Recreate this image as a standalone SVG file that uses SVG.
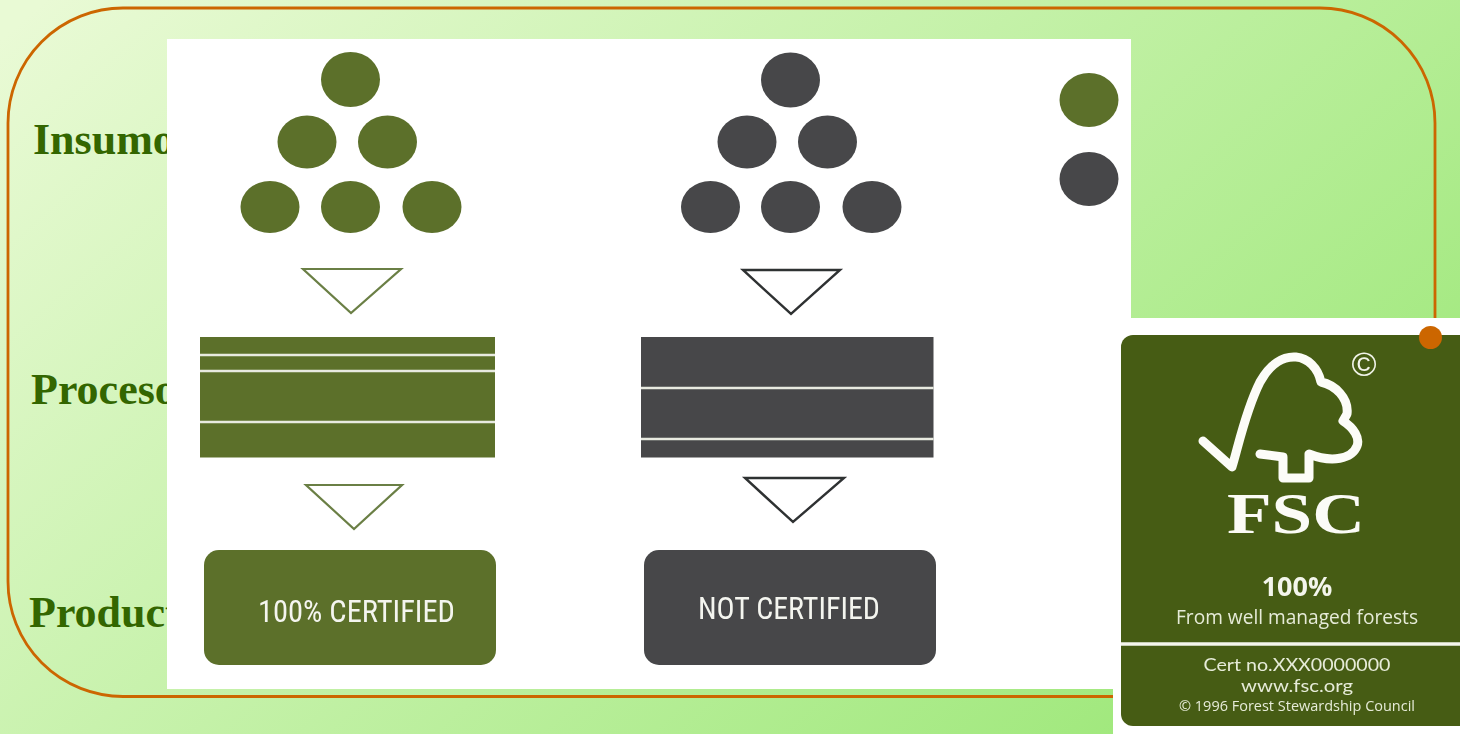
<svg xmlns="http://www.w3.org/2000/svg" width="1460" height="734" viewBox="0 0 1460 734">
<defs>
<linearGradient id="bg" gradientUnits="userSpaceOnUse" x1="250" y1="-180" x2="1210" y2="914">
<stop offset="0" stop-color="#e9fad5"/><stop offset="1" stop-color="#96e670"/>
</linearGradient>
<filter id="soft" x="-5%" y="-5%" width="110%" height="110%"><feGaussianBlur stdDeviation="0.6"/></filter>
<filter id="softer" x="-5%" y="-5%" width="110%" height="110%"><feGaussianBlur stdDeviation="0.4"/></filter>
</defs>
<style>
.lbl{font:bold 44px "Liberation Serif",serif;fill:#336600}
.g{fill:#5c702c}.d{fill:#464749}
.tg{fill:#fff;stroke:#6b7f45;stroke-width:2.2}
.td{fill:#fff;stroke:#2f3032;stroke-width:2.4}
.sep{stroke:#e8eae0;stroke-width:2.6}
.btn{font:32px "Roboto Condensed",Roboto,"Liberation Sans",sans-serif;fill:#f4f5ef}
.fs{font-family:"Open Sans","Noto Sans",sans-serif;fill:#e6ebd8;text-anchor:middle}
.fl{font-family:Lato,"Open Sans",sans-serif;fill:#e6ebd8;text-anchor:middle}
</style>
<rect id="background" width="1460" height="734" fill="url(#bg)"/>
<rect id="frame" x="8" y="8" width="1427" height="688.500" rx="115" ry="115" fill="none" stroke="#cc6600" stroke-width="2.800"/>
<g id="labels">
<text class="lbl" x="33" y="154">Insumo</text>
<text class="lbl" x="31" y="404">Proceso</text>
<text class="lbl" x="29" y="627">Product</text>
</g>
<g id="chart">
<rect x="167" y="39" width="964" height="650" fill="#fff"/>
<g filter="url(#softer)">
<g id="certified-inputs" class="g">
<ellipse cx="350.500" cy="79.500" rx="29.500" ry="27.500"/>
<ellipse cx="307" cy="142" rx="29.500" ry="26.500"/>
<ellipse cx="387.500" cy="142" rx="29.500" ry="26.500"/>
<ellipse cx="270" cy="207" rx="29.500" ry="26"/>
<ellipse cx="350.500" cy="207" rx="29.500" ry="26"/>
<ellipse cx="432" cy="207" rx="29.500" ry="26"/>
</g>
<g id="uncertified-inputs" class="d">
<ellipse cx="790.500" cy="80" rx="29.500" ry="27.500"/>
<ellipse cx="747" cy="142" rx="29.500" ry="26.500"/>
<ellipse cx="827.500" cy="142" rx="29.500" ry="26.500"/>
<ellipse cx="710.500" cy="207" rx="29.500" ry="26"/>
<ellipse cx="790.500" cy="207" rx="29.500" ry="26"/>
<ellipse cx="872" cy="207" rx="29.500" ry="26"/>
</g>
<g id="legend">
<ellipse class="g" cx="1089" cy="100" rx="29.500" ry="27"/>
<ellipse class="d" cx="1089" cy="179" rx="29.500" ry="27"/>
</g>
<g id="arrows">
<polygon class="tg" points="303,269 401,269 351,313"/>
<polygon class="tg" points="306,485 402,485 354,529"/>
<polygon class="td" points="743,270 840,270 791,314"/>
<polygon class="td" points="745,478 844,478 793,522"/>
</g>
<g id="certified-process">
<rect class="g" x="200" y="337" width="295" height="120.500"/>
<line class="sep" x1="200" x2="495" y1="355" y2="355"/>
<line class="sep" x1="200" x2="495" y1="371" y2="371"/>
<line class="sep" x1="200" x2="495" y1="422" y2="422"/>
</g>
<g id="uncertified-process">
<rect class="d" x="641" y="337" width="292.500" height="120.500"/>
<line class="sep" x1="641" x2="933.500" y1="388" y2="388"/>
<line class="sep" x1="641" x2="933.500" y1="439" y2="439"/>
</g>
<g id="certified-product">
<rect class="g" x="204" y="550" width="292" height="115" rx="15"/>
<text class="btn" x="258" y="622" textLength="197" lengthAdjust="spacingAndGlyphs">100% CERTIFIED</text>
</g>
<g id="uncertified-product">
<rect class="d" x="644" y="550" width="292" height="115" rx="15"/>
<text class="btn" x="698" y="619" textLength="182" lengthAdjust="spacingAndGlyphs">NOT CERTIFIED</text>
</g>
</g>
</g>
<g id="fsc-logo">
<rect x="1113" y="318" width="347" height="416" fill="#fff"/>
<path d="M1121 347a12 12 0 0 1 12-12H1460V726H1133a12 12 0 0 1-12-12Z" fill="#465c14"/>
<g filter="url(#soft)">
<path d="M1203 441L1232 467C1238 448 1245 412 1260 382C1270 364 1283 356 1296 357C1308 358 1318 368 1321 382C1335 385 1349 398 1347 414L1343 421C1354 428 1360 438 1357 446C1352 459 1332 463 1309 454V478H1283V457L1260 454" fill="none" stroke="#fcfcf8" stroke-width="9" stroke-linejoin="round" stroke-linecap="round"/>
<line x1="1121" x2="1460" y1="644" y2="644" stroke="#f4f6ec" stroke-width="3.500"/>
<text x="1364" y="376" font-family="Liberation Sans,sans-serif" font-size="34" fill="#f2f4ea" text-anchor="middle">©</text>
<text x="1296" y="533" font-family="Liberation Serif,serif" font-weight="bold" font-size="56" fill="#fbfbf6" text-anchor="middle" textLength="138" lengthAdjust="spacingAndGlyphs">FSC</text>
<text class="fs" x="1297" y="596" font-size="27" font-weight="700" style="fill:#f4f6ec">100%</text>
<text class="fs" x="1297" y="624" font-size="19.500" textLength="242" lengthAdjust="spacingAndGlyphs">From well managed forests</text>
<text class="fl" x="1297" y="671" font-size="17.500" textLength="187" lengthAdjust="spacingAndGlyphs">Cert no.XXX0000000</text>
<text class="fl" x="1297" y="692" font-size="17.500" textLength="112" lengthAdjust="spacingAndGlyphs">www.fsc.org</text>
<text class="fs" x="1297" y="711" font-size="14" textLength="236" lengthAdjust="spacingAndGlyphs">© 1996 Forest Stewardship Council</text>
</g>
</g>
<circle id="bullet" cx="1430.500" cy="337.500" r="11.500" fill="#cc6600"/>
</svg>
